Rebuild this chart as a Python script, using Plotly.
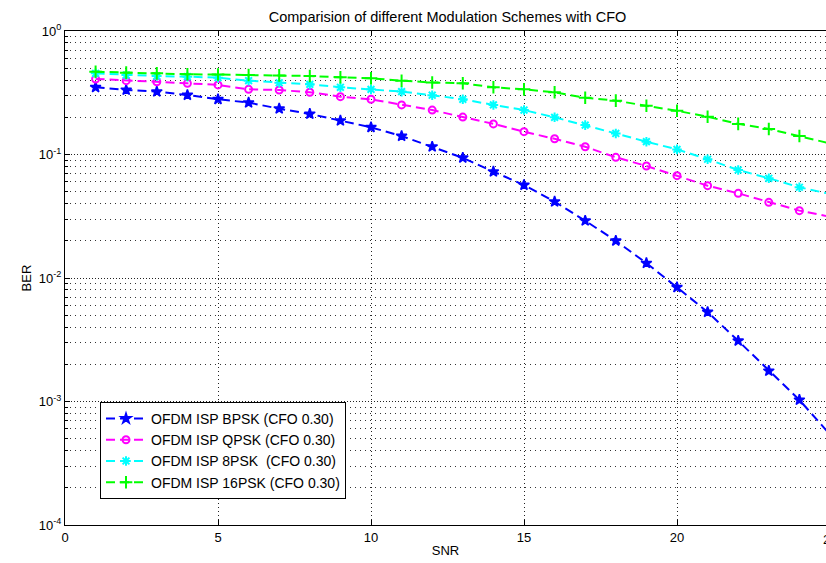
import plotly.graph_objects as go

snr = list(range(1, 26))

ber_bpsk = [0.350, 0.333, 0.323, 0.303, 0.280, 0.263, 0.235, 0.213, 0.188, 0.166,
            0.141, 0.1156, 0.094, 0.0726, 0.0566, 0.0415, 0.0291, 0.0200, 0.0132,
            0.0084, 0.0053, 0.0031, 0.00177, 0.00103, 0.00054]
ber_qpsk = [0.409, 0.396, 0.388, 0.377, 0.366, 0.337, 0.333, 0.319, 0.294, 0.280,
            0.252, 0.229, 0.201, 0.177, 0.153, 0.134, 0.1156, 0.0949, 0.0807,
            0.0674, 0.0559, 0.0485, 0.0410, 0.0351, 0.0313]
ber_8psk = [0.454, 0.440, 0.432, 0.427, 0.419, 0.396, 0.381, 0.370, 0.350, 0.337,
            0.323, 0.302, 0.280, 0.252, 0.229, 0.200, 0.173, 0.148, 0.127, 0.110,
            0.0915, 0.0749, 0.0642, 0.0543, 0.0479]
ber_16psk = [0.468, 0.460, 0.454, 0.446, 0.444, 0.440, 0.437, 0.432, 0.422, 0.414,
             0.396, 0.383, 0.377, 0.350, 0.337, 0.319, 0.288, 0.273, 0.248, 0.226,
             0.202, 0.177, 0.161, 0.141, 0.123]

names = ["OFDM ISP BPSK (CFO 0.30)", "OFDM ISP QPSK (CFO 0.30)",
         "OFDM ISP 8PSK\u00a0 (CFO 0.30)", "OFDM ISP 16PSK (CFO 0.30)"]

y_tickvals = [1e-4, 1e-3, 1e-2, 1e-1, 1e0]
y_ticktext = ["10<sup>-4</sup>", "10<sup>-3</sup>", "10<sup>-2</sup>",
              "10<sup>-1</sup>", "10<sup>0</sup>"]
x_tickvals = [0, 5, 10, 15, 20]

minor_vals = [m * 10 ** e for e in range(-4, 0) for m in range(2, 10)]

fig = go.Figure()
styles = [
    (ber_bpsk, "#0000FF", dict(symbol="star", size=8, line=dict(width=1.5, color="#0000FF"))),
    (ber_qpsk, "#FF00FF", dict(symbol="circle-open", size=7, line=dict(width=2, color="#FF00FF"))),
    (ber_8psk, "#00FFFF", dict(symbol="asterisk-open", size=8, line=dict(width=2, color="#00FFFF"))),
    (ber_16psk, "#00FF00", dict(symbol="cross-thin-open", size=9, line=dict(width=2, color="#00FF00"))),
]
for (vals, col, mk), nm in zip(styles, names):
    fig.add_trace(go.Scatter(
        x=snr, y=vals, name=nm, mode="lines+markers",
        line=dict(color=col, width=2, dash="9px,5px"),
        marker=dict(color=col, **mk),
        cliponaxis=False,
    ))

fam = "Liberation Sans, Arial, sans-serif"
font = dict(family=fam, size=13, color="black")

fig.update_layout(
    width=826, height=563,
    margin=dict(l=65, r=0, t=31, b=38, autoexpand=False),
    paper_bgcolor="white", plot_bgcolor="white",
    font=font,
    title=dict(text="Comparision of different Modulation Schemes with CFO",
               x=447.5 / 826, xref="container", xanchor="center",
               y=1 - 17 / 563, yref="container", yanchor="middle",
               automargin=False,
               font=dict(family=fam, size=14.5, color="black")),
    showlegend=True,
    legend=dict(x=(100 - 65) / 761, y=(525 - 402) / 494, xanchor="left", yanchor="top",
                bgcolor="white", bordercolor="black", borderwidth=1,
                font=dict(family=fam, size=14, color="black"),
                tracegroupgap=0, itemwidth=40),
    xaxis=dict(range=[0, 761 / 30.6], tickvals=x_tickvals, ticks="inside", ticklen=5,
               tickcolor="black", showline=True, linecolor="black", linewidth=1,
               mirror="ticks", showgrid=True, gridcolor="#222222", griddash="1px,3px",
               gridwidth=1, zeroline=False, automargin=False,
               title=dict(text="SNR", standoff=2, font=font),
               tickfont=font),
    yaxis=dict(type="log", range=[-4, 0], tickvals=y_tickvals, ticktext=y_ticktext,
               ticks="inside", ticklen=5, tickcolor="black", showline=True,
               linecolor="black", linewidth=1, mirror=False, showgrid=True,
               gridcolor="#222222", griddash="1px,2px", gridwidth=1, zeroline=False,
               automargin=False,
               title=dict(text="BER", standoff=4, font=font), tickfont=font,
               minor=dict(tickvals=minor_vals, showgrid=True, gridcolor="#333333",
                          griddash="1px,4px", gridwidth=1, ticks="inside", ticklen=3,
                          tickcolor="black")),
)

fig.add_annotation(text="25", xref="paper", yref="paper", x=(830 - 65) / 761, y=0,
                   yshift=-14, showarrow=False, xanchor="center", yanchor="middle",
                   font=font)

fig.write_html("out.html", config={"displayModeBar": False},
               post_script="document.body.style.margin='0';document.body.style.overflow='hidden';")
